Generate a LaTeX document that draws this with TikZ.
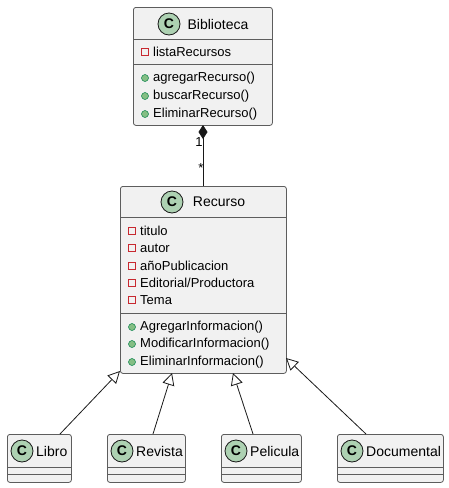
\documentclass[tikz,border=0pt]{standalone}
\usepackage{fontspec}
\setmainfont{Liberation Sans}
\usetikzlibrary{arrows.meta}
\definecolor{boxfill}{HTML}{F1F1F1}
\definecolor{edge}{HTML}{181818}
\definecolor{cfill}{HTML}{ADD1B2}
\definecolor{privred}{HTML}{C82930}
\definecolor{pubfill}{HTML}{84BE84}
\definecolor{publine}{HTML}{038048}
\tikzset{
  cls/.style={draw=edge!70, fill=boxfill, line width=0.8pt, rounded corners=2.5pt, anchor=north west, inner sep=0pt},
  sep/.style={draw=edge!70, line width=0.8pt},
  cbadge/.style={circle, draw=edge, fill=cfill, line width=0.8pt, minimum size=22pt, inner sep=0pt, font=\fontsize{14}{14}\selectfont\bfseries},
  cname/.style={font=\fontsize{14}{16}\selectfont, inner sep=0pt, text=black},
  mem/.style={font=\fontsize{13}{15}\selectfont, inner sep=0pt, anchor=west, text=black},
  priv/.style={draw=privred, line width=0.8pt, minimum size=7pt, inner sep=0pt},
  pub/.style={circle, draw=publine, fill=pubfill, line width=0.5pt, minimum size=7pt, inner sep=0pt},
  inh/.style={draw=edge, line width=0.8pt, -{Triangle[open, length=12pt, width=12pt]}},
  comp/.style={draw=edge, line width=0.8pt, {Diamond[length=14pt, width=9pt, fill=edge]}-},
  mult/.style={font=\fontsize{13}{15}\selectfont, inner sep=0pt, text=black}
}
\begin{document}
\begin{tikzpicture}[x=1pt, y=-1pt]
\useasboundingbox (0,0) rectangle (449,488);
% Biblioteca
\node[cls, minimum width=139pt, minimum height=118pt] (bib) at (133,7) {};
\draw[sep] (133,39) -- (272,39);
\draw[sep] (133,64) -- (272,64);
\node[cbadge] (bibc) at (169,24) {C};
\node[cname] (bibn) at (218,24) {Biblioteca};
\node[priv] (bp1) at (145,52) {};
\node[mem] (ba1) at (153,52) {listaRecursos};
\node[pub] (bq1) at (145,78) {};
\node[mem] (bm1) at (153,78) {agregarRecurso()};
\node[pub] (bq2) at (145,96) {};
\node[mem] (bm2) at (153,96) {buscarRecurso()};
\node[pub] (bq3) at (145,114) {};
\node[mem] (bm3) at (153,114) {EliminarRecurso()};
% Recurso
\node[cls, minimum width=166pt, minimum height=187pt] (rec) at (120,186) {};
\draw[sep] (120,217) -- (286,217);
\draw[sep] (120,313) -- (286,313);
\node[cbadge] (recc) at (172,202) {C};
\node[cname] (recn) at (219,202) {Recurso};
\foreach \y/\t [count=\i] in {231/titulo,248/autor,266/añoPublicacion,283/{Editorial/Productora},300/Tema}{
  \node[priv] (rp\i) at (132,\y) {};
  \node[mem] (ra\i) at (140,\y) {\t};
}
\foreach \y/\t [count=\i] in {327/AgregarInformacion(),344/ModificarInformacion(),362/EliminarInformacion()}{
  \node[pub] (rq\i) at (132,\y) {};
  \node[mem] (rm\i) at (140,\y) {\t};
}
% Subclasses
\node[cls, minimum width=64pt, minimum height=48pt] (lib) at (7,434) {};
\draw[sep] (7,467) -- (71,467);
\draw[sep] (7,474) -- (71,474);
\node[cbadge] (libc) at (22,451) {C};
\node[cname, anchor=west] (libn) at (36,451) {Libro};

\node[cls, minimum width=78pt, minimum height=48pt] (rev) at (107,434) {};
\draw[sep] (107,467) -- (185,467);
\draw[sep] (107,474) -- (185,474);
\node[cbadge] (revc) at (122,451) {C};
\node[cname, anchor=west] (revn) at (136,451) {Revista};

\node[cls, minimum width=80pt, minimum height=48pt] (pel) at (221,434) {};
\draw[sep] (221,467) -- (301,467);
\draw[sep] (221,474) -- (301,474);
\node[cbadge] (pelc) at (236,451) {C};
\node[cname, anchor=west] (peln) at (250,451) {Pelicula};

\node[cls, minimum width=106pt, minimum height=48pt] (doc) at (337,434) {};
\draw[sep] (337,467) -- (443,467);
\draw[sep] (337,474) -- (443,474);
\node[cbadge] (docc) at (352,451) {C};
\node[cname, anchor=west] (docn) at (366,451) {Documental};

% connectors
\coordinate (compS) at (203,125);
\coordinate (compE) at (203,186);
\draw[comp] (compS) -- (compE);
\node[mult] (m1) at (199,142) {1};
\node[mult] (m2) at (201,168) {*};

\coordinate (libT) at (60,434);
\coordinate (libH) at (120,371);
\coordinate (revT) at (153,434);
\coordinate (revH) at (172,373);
\coordinate (pelT) at (253,434);
\coordinate (pelH) at (233,373);
\coordinate (docT) at (366,434);
\coordinate (docH) at (286,358);
\draw[inh] (libT) -- (libH);
\draw[inh] (revT) -- (revH);
\draw[inh] (pelT) -- (pelH);
\draw[inh] (docT) -- (docH);
\end{tikzpicture}
\end{document}
